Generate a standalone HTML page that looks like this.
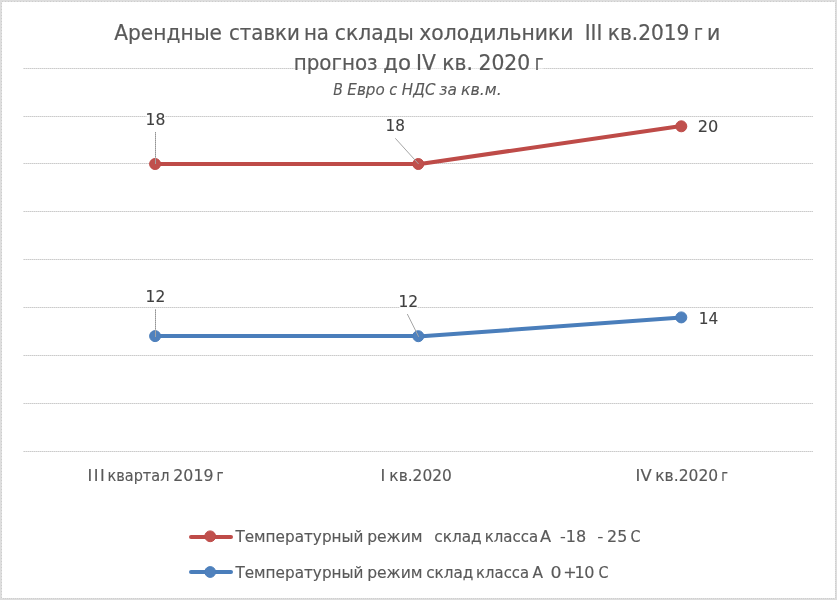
<!DOCTYPE html>
<html lang="ru">
<head>
<meta charset="utf-8">
<title>Арендные ставки на склады холодильники</title>
<style>
html,body{margin:0;padding:0;background:#fff;}
body{width:837px;height:600px;overflow:hidden;position:relative;font-family:"Liberation Sans",sans-serif;}
svg{display:block;position:absolute;left:0;top:0;}
</style>
</head>
<body>
<svg width="837" height="600" viewBox="0 0 837 600">
<rect x="0" y="0" width="837" height="600" fill="#ffffff"/>
<defs>
<pattern id="bh" x="0" y="0" width="3" height="1" patternUnits="userSpaceOnUse"><rect x="0" y="0" width="3" height="1" fill="#dfdfdf"/><rect x="2" y="0" width="1" height="1" fill="#cdcdcd"/></pattern>
<pattern id="bv" x="0" y="0" width="1" height="3" patternUnits="userSpaceOnUse"><rect x="0" y="0" width="1" height="3" fill="#dfdfdf"/><rect x="0" y="0" width="1" height="1" fill="#cdcdcd"/></pattern>
<pattern id="bh2" x="0" y="0" width="2" height="1" patternUnits="userSpaceOnUse"><rect x="0" y="0" width="2" height="1" fill="#dfdfdf"/><rect x="1" y="0" width="1" height="1" fill="#cfcfcf"/></pattern>
<pattern id="bv2" x="0" y="0" width="1" height="2" patternUnits="userSpaceOnUse"><rect x="0" y="0" width="1" height="2" fill="#dfdfdf"/><rect x="0" y="1" width="1" height="1" fill="#cfcfcf"/></pattern>
</defs>
<rect x="0" y="0" width="837" height="2" fill="#dddddd"/>
<rect x="0" y="598" width="837" height="2" fill="#dddddd"/>
<rect x="0" y="0" width="2" height="600" fill="#dddddd"/>
<rect x="835" y="0" width="2" height="600" fill="#dddddd"/>
<rect x="2" y="1" width="833" height="1" fill="url(#bh)"/>
<rect x="2" y="598" width="833" height="1" fill="url(#bh2)"/>
<rect x="1" y="2" width="1" height="596" fill="url(#bv)"/>
<rect x="835" y="2" width="1" height="596" fill="url(#bv2)"/>
<defs><pattern id="gd" x="0" y="0" width="2" height="1" patternUnits="userSpaceOnUse"><rect x="0" y="0" width="1" height="1" fill="#cbcbcb"/><rect x="1" y="0" width="1" height="1" fill="#e1e1e1"/></pattern></defs>
<rect x="23" y="68" width="790" height="1" fill="url(#gd)"/>
<rect x="23" y="116" width="790" height="1" fill="url(#gd)"/>
<rect x="23" y="163" width="790" height="1" fill="url(#gd)"/>
<rect x="23" y="211" width="790" height="1" fill="url(#gd)"/>
<rect x="23" y="259" width="790" height="1" fill="url(#gd)"/>
<rect x="23" y="307" width="790" height="1" fill="url(#gd)"/>
<rect x="23" y="355" width="790" height="1" fill="url(#gd)"/>
<rect x="23" y="403" width="790" height="1" fill="url(#gd)"/>
<rect x="23" y="451" width="790" height="1" fill="url(#gd)"/>
<g fill="none" stroke="#4A7EBB" stroke-width="4" stroke-linecap="round">
<line x1="155.1" y1="336" x2="418.3" y2="336"/>
<line x1="418.3" y1="336.6" x2="681.3" y2="317.45"/>
</g>
<circle cx="155.1" cy="336.1" r="5.5" fill="#4F81BD" stroke="#4A7EBB" stroke-width="1"/>
<circle cx="418.3" cy="336.2" r="5.5" fill="#4F81BD" stroke="#4A7EBB" stroke-width="1"/>
<circle cx="681.3" cy="317.4" r="5.5" fill="#4F81BD" stroke="#4A7EBB" stroke-width="1"/>
<g fill="none" stroke="#BE4B48" stroke-width="4" stroke-linecap="round">
<line x1="155.1" y1="164" x2="418.3" y2="164"/>
<line x1="418.3" y1="164.25" x2="681.3" y2="125.95"/>
</g>
<circle cx="155.1" cy="164" r="5.5" fill="#C0504D" stroke="#BE4B48" stroke-width="1"/>
<circle cx="418.3" cy="164" r="5.5" fill="#C0504D" stroke="#BE4B48" stroke-width="1"/>
<circle cx="681.3" cy="126.3" r="5.5" fill="#C0504D" stroke="#BE4B48" stroke-width="1"/>
<rect x="294" y="68" width="249" height="1" fill="#ffffff" fill-opacity="0.45"/>
<rect x="146.5" y="115.5" width="18.5" height="2" fill="#ffffff" fill-opacity="0.85"/>
<rect x="399.5" y="306.5" width="18" height="2" fill="#ffffff" fill-opacity="0.85"/>
<defs><pattern id="ld" x="0" y="0" width="1" height="2" patternUnits="userSpaceOnUse"><rect x="0" y="0" width="1" height="1" fill="#949494"/><rect x="0" y="1" width="1" height="1" fill="#b8b8b8"/></pattern></defs>
<rect x="155" y="132" width="1" height="26" fill="url(#ld)"/>
<rect x="155" y="158" width="1" height="6" fill="#a3a3a3"/>
<rect x="155" y="309" width="1" height="21" fill="url(#ld)"/>
<rect x="155" y="330" width="1" height="7" fill="#a3a3a3"/>
<g stroke="#a6a6a6" stroke-width="1" fill="none">
<line x1="395.3" y1="138.3" x2="418.6" y2="164"/>
<line x1="407.3" y1="314" x2="418.7" y2="336.8"/>
</g>
<line x1="191" y1="537" x2="231" y2="537" stroke="#BE4B48" stroke-width="4" stroke-linecap="round"/>
<circle cx="210.2" cy="536.3" r="5.4" fill="#C0504D" stroke="#BE4B48" stroke-width="1"/>
<line x1="191" y1="572" x2="231" y2="572" stroke="#4A7EBB" stroke-width="4" stroke-linecap="round"/>
<circle cx="210.2" cy="572" r="5.4" fill="#4F81BD" stroke="#4A7EBB" stroke-width="1"/>
<g font-family="'DejaVu Sans', 'Liberation Sans', sans-serif" font-size="20.5" fill="#595959" stroke="#595959" stroke-width="0.2">
<text transform="translate(114.20 39.90) scale(0.9860 1)">Арендные</text>
<text transform="translate(228.94 39.90) scale(0.9655 1)">ставки</text>
<text transform="translate(303.96 39.90) scale(0.9640 1)">на</text>
<text transform="translate(334.71 39.90) scale(0.9923 1)">склады</text>
<text transform="translate(419.20 39.90) scale(0.9934 1)">холодильники</text>
<text transform="translate(584.66 39.90) scale(0.9724 1)">III</text>
<text transform="translate(607.73 39.90) scale(0.9824 1)">кв.2019</text>
<text transform="translate(694.12 39.90) scale(0.8250 1)">г</text>
<text transform="translate(707.10 39.90) scale(1.0000 1)">и</text>
</g>
<g font-family="'DejaVu Sans', 'Liberation Sans', sans-serif" font-size="20.5" fill="#595959" stroke="#595959" stroke-width="0.2">
<text transform="translate(293.65 69.90) scale(0.9704 1)">прогноз</text>
<text transform="translate(383.26 69.90) scale(1.0416 1)">до</text>
<text transform="translate(416.12 69.90) scale(0.9919 1)">IV</text>
<text transform="translate(442.32 69.90) scale(0.9866 1)">кв.</text>
<text transform="translate(478.51 69.90) scale(0.9913 1)">2020</text>
<text transform="translate(534.64 69.90) scale(0.8125 1)">г</text>
</g>
<g font-family="'DejaVu Sans', 'Liberation Sans', sans-serif" font-size="16.0" fill="#595959" font-style="italic" stroke="#595959" stroke-width="0.1">
<text transform="translate(333.25 94.60) scale(0.8750 1)">В</text>
<text transform="translate(347.32 94.60) scale(0.9480 1)">Евро</text>
<text transform="translate(389.16 94.60) scale(0.9114 1)">с</text>
<text transform="translate(401.82 94.60) scale(0.9425 1)">НДС</text>
<text transform="translate(439.31 94.60) scale(0.9645 1)">за</text>
<text transform="translate(461.01 94.60) scale(0.9858 1)">кв.м.</text>
</g>
<g font-family="'DejaVu Sans', 'Liberation Sans', sans-serif" font-size="16.0" fill="#404040" stroke="#404040" stroke-width="0.1">
<text transform="translate(145.55 125.00) scale(0.9727 1)">18</text>
</g>
<g font-family="'DejaVu Sans', 'Liberation Sans', sans-serif" font-size="16.0" fill="#404040" stroke="#404040" stroke-width="0.1">
<text transform="translate(385.58 131.00) scale(0.9556 1)">18</text>
</g>
<g font-family="'DejaVu Sans', 'Liberation Sans', sans-serif" font-size="16.0" fill="#404040" stroke="#404040" stroke-width="0.1">
<text transform="translate(697.79 132.00) scale(1.0121 1)">20</text>
</g>
<g font-family="'DejaVu Sans', 'Liberation Sans', sans-serif" font-size="16.0" fill="#404040" stroke="#404040" stroke-width="0.1">
<text transform="translate(145.56 302.00) scale(0.9661 1)">12</text>
</g>
<g font-family="'DejaVu Sans', 'Liberation Sans', sans-serif" font-size="16.0" fill="#404040" stroke="#404040" stroke-width="0.1">
<text transform="translate(398.45 307.00) scale(0.9719 1)">12</text>
</g>
<g font-family="'DejaVu Sans', 'Liberation Sans', sans-serif" font-size="16.0" fill="#404040" stroke="#404040" stroke-width="0.1">
<text transform="translate(698.77 324.00) scale(0.9561 1)">14</text>
</g>
<g font-family="'DejaVu Sans', 'Liberation Sans', sans-serif" font-size="16.0" fill="#595959" stroke="#595959" stroke-width="0.15">
<text x="87.54 93.84 100.04" y="480.80">III</text>
<text transform="translate(107.43 480.80) scale(0.9074 1)">квартал</text>
<text transform="translate(173.32 480.80) scale(0.9860 1)">2019</text>
<text transform="translate(216.52 480.80) scale(0.8413 1)">г</text>
</g>
<g font-family="'DejaVu Sans', 'Liberation Sans', sans-serif" font-size="16.0" fill="#595959" stroke="#595959" stroke-width="0.15">
<text x="380.44" y="480.80">I</text>
<text transform="translate(389.35 480.80) scale(0.9629 1)">кв.2020</text>
</g>
<g font-family="'DejaVu Sans', 'Liberation Sans', sans-serif" font-size="16.0" fill="#595959" stroke="#595959" stroke-width="0.15">
<text transform="translate(635.56 480.80) scale(1.0270 1)">IV</text>
<text transform="translate(655.24 480.80) scale(0.9693 1)">кв.2020</text>
<text transform="translate(721.29 480.80) scale(0.7937 1)">г</text>
</g>
<g font-family="'DejaVu Sans', 'Liberation Sans', sans-serif" font-size="16.0" fill="#595959" stroke="#595959" stroke-width="0.15">
<text transform="translate(235.40 541.60) scale(0.9535 1)">Температурный</text>
<text transform="translate(367.14 541.60) scale(0.9739 1)">режим</text>
<text transform="translate(434.23 541.60) scale(0.9585 1)">склад</text>
<text transform="translate(484.69 541.60) scale(0.9357 1)">класса</text>
<text transform="translate(540.00 541.60) scale(1.0185 1)">А</text>
<text transform="translate(560.00 541.60) scale(1.0019 1)">-18</text>
<text transform="translate(597.35 541.60) scale(1.0698 1)">-</text>
<text transform="translate(607.11 541.60) scale(0.9900 1)">25</text>
<text transform="translate(630.48 541.60) scale(0.8958 1)">С</text>
</g>
<g font-family="'DejaVu Sans', 'Liberation Sans', sans-serif" font-size="16.0" fill="#595959" stroke="#595959" stroke-width="0.15">
<text transform="translate(235.40 577.60) scale(0.9535 1)">Температурный</text>
<text transform="translate(367.14 577.60) scale(0.9739 1)">режим</text>
<text transform="translate(426.14 577.60) scale(0.9543 1)">склад</text>
<text transform="translate(476.10 577.60) scale(0.9284 1)">класса</text>
<text transform="translate(532.60 577.60) scale(0.9630 1)">А</text>
<text transform="translate(550.61 577.60) scale(1.0854 1)">0</text>
<text x="563.20 574.51 584.21" y="577.60">+10</text>
<text transform="translate(598.38 577.60) scale(0.8958 1)">С</text>
</g>
</svg>
</body>
</html>
